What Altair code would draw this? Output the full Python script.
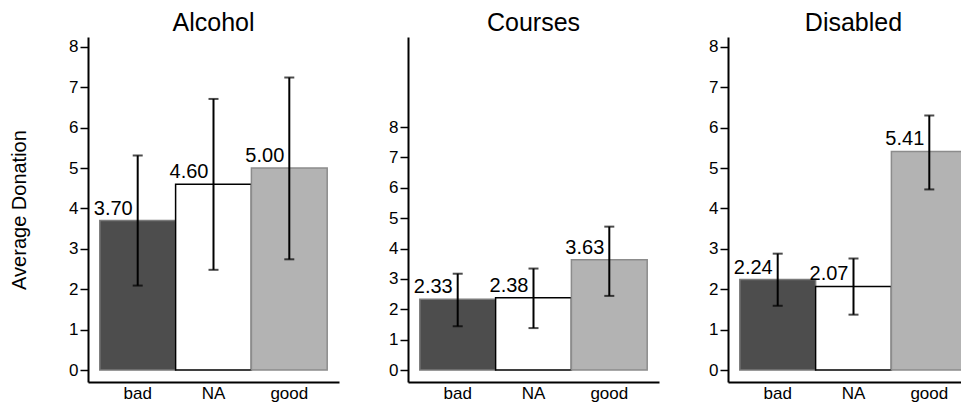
import altair as alt
import pandas as pd

categories = ["bad", "NA", "good"]
panels = ["Alcohol", "Courses", "Disabled"]

alcohol_mean = [3.70, 4.60, 5.00]
alcohol_lo = [2.09, 2.48, 2.74]
alcohol_hi = [5.31, 6.71, 7.24]

courses_mean = [2.33, 2.38, 3.63]
courses_lo = [1.44, 1.38, 2.44]
courses_hi = [3.17, 3.34, 4.72]

disabled_mean = [2.24, 2.07, 5.41]
disabled_lo = [1.59, 1.37, 4.47]
disabled_hi = [2.88, 2.76, 6.30]

y_ticks = [0, 1, 2, 3, 4, 5, 6, 7, 8]
domains = {"Alcohol": [-0.297, 8.243], "Courses": [-0.395, 10.963], "Disabled": [-0.297, 8.243]}

fills = ["#4d4d4d", "#ffffff", "#b3b3b3"]
strokes = ["#7a7a7a", "#000000", "#8c8c8c"]
FONT = "Liberation Sans"

series = {
    "Alcohol": (alcohol_mean, alcohol_lo, alcohol_hi),
    "Courses": (courses_mean, courses_lo, courses_hi),
    "Disabled": (disabled_mean, disabled_lo, disabled_hi),
}


def make_panel(name, first):
    m, lo, hi = series[name]
    df = pd.DataFrame({"cat": categories, "mean": m, "lo": lo, "hi": hi})
    df["label"] = [f"{v:.2f}" for v in m]
    x = alt.X("cat:N", sort=categories,
              scale=alt.Scale(paddingInner=0, paddingOuter=0.1557),
              axis=alt.Axis(title=None, labelAngle=0, ticks=False, labelPadding=3,
                            labelFontSize=17, domainColor="black", domainWidth=2,
                            labelColor="black", labelFont=FONT))
    yaxis = alt.Axis(values=y_ticks, grid=False, tickSize=8, tickWidth=1.5, tickColor="black",
                     domainColor="black", domainWidth=2, labelFontSize=17, labelPadding=2,
                     labelColor="black", labelFont=FONT,
                     title="Average Donation" if first else None,
                     titleFontSize=20, titleFontWeight="normal", titleColor="black",
                     titleFont=FONT, titlePadding=39)
    yscale = alt.Scale(domain=domains[name], nice=False, zero=False)
    base = alt.Chart(df)
    bars = base.mark_bar(strokeWidth=1.5).encode(
        x=x,
        y=alt.Y("mean:Q", scale=yscale, axis=yaxis),
        y2=alt.datum(0),
        fill=alt.Fill("cat:N", scale=alt.Scale(domain=categories, range=fills), legend=None),
        stroke=alt.Stroke("cat:N", scale=alt.Scale(domain=categories, range=strokes), legend=None),
    )
    text = base.mark_text(align="right", baseline="alphabetic", dx=-5, dy=-6,
                          fontSize=20, font=FONT, color="black").encode(
        x=alt.X("cat:N", sort=categories), y=alt.Y("mean:Q"), text="label:N")
    rule = base.mark_rule(color="black", strokeWidth=2).encode(
        x=alt.X("cat:N", sort=categories), y=alt.Y("lo:Q"), y2="hi:Q")
    cap_lo = base.mark_tick(color="black", thickness=2, size=10).encode(
        x=alt.X("cat:N", sort=categories), y=alt.Y("lo:Q"))
    cap_hi = base.mark_tick(color="black", thickness=2, size=10).encode(
        x=alt.X("cat:N", sort=categories), y=alt.Y("hi:Q"))
    return alt.layer(bars, rule, cap_lo, cap_hi, text).properties(
        width=251, height=345,
        title=alt.TitleParams(name, fontSize=25, font=FONT, fontWeight="normal",
                              color="black", offset=1),
    )


# the right end of the last panel runs past the picture's edge, as in the reference
chart = alt.hconcat(*[make_panel(n, i == 0) for i, n in enumerate(panels)], spacing=49).configure_view(
    stroke=None
).properties(padding={"left": 1, "top": 3, "right": -18, "bottom": 3})

chart.save("out.html", embed_options={"renderer": "svg", "actions": False})
